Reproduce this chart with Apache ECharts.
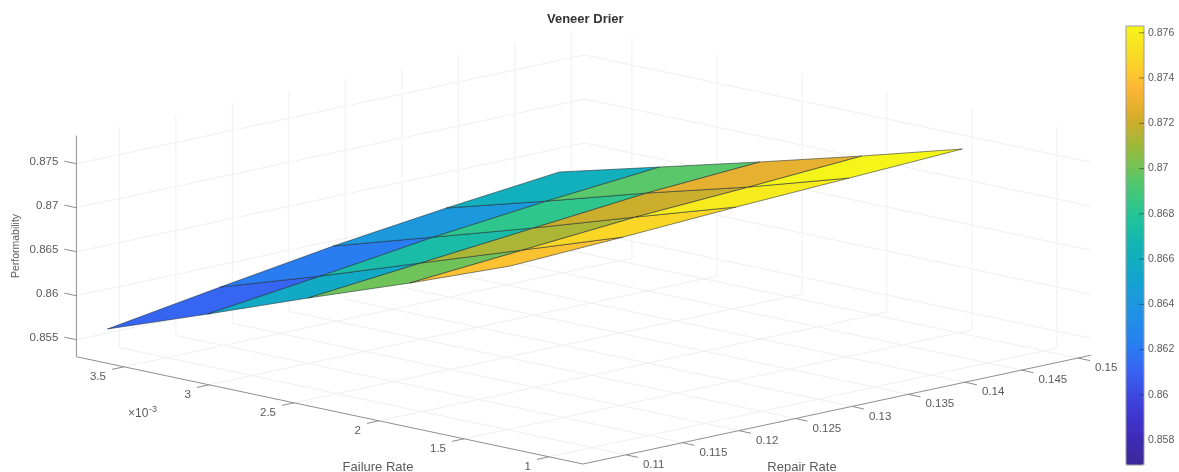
<!DOCTYPE html>
<html>
<head>
<meta charset="utf-8">
<style>html,body{margin:0;padding:0;background:#fff}#c{width:1179px;height:472px;filter:blur(0.4px)}</style>
<script src="https://cdn.jsdelivr.net/npm/echarts@6/dist/echarts.min.js"></script>
</head>
<body>
<div id="c"></div>
<script>
// ---------- data ----------
const failureTicks = [1, 1.5, 2, 2.5, 3, 3.5];            // x 10^-3
const repairTicks = [0.11, 0.115, 0.12, 0.125, 0.13, 0.135, 0.14, 0.145, 0.15];
const perfTicks = [0.855, 0.86, 0.865, 0.87, 0.875];
const colorbarTicks = [0.858, 0.86, 0.862, 0.864, 0.866, 0.868, 0.87, 0.872, 0.874, 0.876];

const failureRate = [3.85, 3.26, 2.67, 2.07, 1.48];       // x 10^-3
const repairRate = [0.11, 0.12, 0.13, 0.14, 0.15];
const perfAtF0 = [0.85489, 0.85691, 0.85882, 0.86039, 0.86173];
const perfAtF1 = [0.85900, 0.86057, 0.86225, 0.86359, 0.86471];
const perfAtF2 = [0.86324, 0.86447, 0.86570, 0.86692, 0.86770];
const perfAtF3 = [0.86740, 0.86840, 0.86940, 0.87006, 0.87083];
const perfAtF4 = [0.87174, 0.87229, 0.87295, 0.87349, 0.87404];
const performability = [perfAtF0, perfAtF1, perfAtF2, perfAtF3, perfAtF4];

const faceColorF0 = [0.8611, 0.8622, 0.8642, 0.8661];
const faceColorF1 = [0.8656, 0.8672, 0.8683, 0.8695];
const faceColorF2 = [0.8700, 0.8713, 0.8720, 0.8728];
const faceColorF3 = [0.8740, 0.8748, 0.8758, 0.8763];
const faceColors = [faceColorF0, faceColorF1, faceColorF2, faceColorF3];

const colormap = ['rgb(60,40,150)', 'rgb(64,44,190)', 'rgb(61,65,218)', 'rgb(55,100,242)', 'rgb(38,130,240)',
  'rgb(31,148,225)', 'rgb(18,165,205)', 'rgb(18,180,180)', 'rgb(36,197,150)', 'rgb(83,200,110)',
  'rgb(146,188,63)', 'rgb(210,172,42)', 'rgb(253,182,54)', 'rgb(250,217,38)', 'rgb(245,245,25)'];
const colorMin = 0.8569, colorMax = 0.8763;

// ---------- 3D axis box limits ----------
const fMin = 0.8, fMax = 3.78, rMin = 0.1062, rMax = 0.15115, zMin = 0.85307, zMax = 0.8782;

// orthographic view of the box, in the units of the hidden screen axes
function project(f, r, z) {
  return [
    583 - 170 * (f - fMin) + 11300 * (r - rMin),
    464 - 36 * (f - fMin) - 2420 * (r - rMin) - 8800 * (z - zMin)
  ];
}

const gridSegs = [];
failureTicks.forEach(f => {
  gridSegs.push([f, rMin, zMin, f, rMax, zMin]);
  gridSegs.push([f, rMax, zMin, f, rMax, zMax]);
});
repairTicks.forEach(r => {
  gridSegs.push([fMin, r, zMin, fMax, r, zMin]);
  gridSegs.push([fMax, r, zMin, fMax, r, zMax]);
});
perfTicks.forEach(z => {
  gridSegs.push([fMax, rMin, z, fMax, rMax, z]);
  gridSegs.push([fMin, rMax, z, fMax, rMax, z]);
});
const axisSegs = [
  [fMax, rMin, zMin, fMax, rMin, zMax],
  [fMin, rMin, zMin, fMax, rMin, zMin],
  [fMin, rMin, zMin, fMin, rMax, zMin]
];

function segItem(color, width) {
  return (params, api) => {
    const p = api.coord(project(api.value(0), api.value(1), api.value(2)));
    const q = api.coord(project(api.value(3), api.value(4), api.value(5)));
    return { type: 'line', shape: { x1: p[0], y1: p[1], x2: q[0], y2: q[1] },
      style: { stroke: color, lineWidth: width }, silent: true };
  };
}

const tickColor = '#8c8c8c', textColor = '#5a5a5a', font = '"Liberation Sans", Arial, sans-serif';

// tick mark + tick label for each axis of the box
function tickItem(anchor, tdx, tdy, ldx, ldy, align, fmt) {
  return (params, api) => {
    const v = api.value(0);
    const p = api.coord(anchor(v));
    return { type: 'group', silent: true, children: [
      { type: 'line', shape: { x1: p[0], y1: p[1], x2: p[0] + tdx, y2: p[1] + tdy },
        style: { stroke: tickColor, lineWidth: 1 } },
      { type: 'text', x: p[0] + ldx, y: p[1] + ldy,
        style: { text: fmt(v), fill: textColor, font: '11.5px ' + font, textAlign: align, textVerticalAlign: 'middle' } }
    ] };
  };
}

const plain = v => String(v);
const hideAxis = { show: false };

const option = {
  animation: false,
  backgroundColor: '#ffffff',
  title: {
    text: 'Veneer Drier', left: 542, top: 8,
    textStyle: { fontFamily: font, fontSize: 13, fontWeight: 'bold', color: '#333' }
  },
  grid: [
    { left: 0, top: 0, width: 1179, height: 472, containLabel: false },
    { left: 1126, top: 26, width: 18, height: 439, show: true, z: 10,
      backgroundColor: 'transparent', borderColor: '#9a9a9a', borderWidth: 1 }
  ],
  xAxis: [
    { type: 'value', gridIndex: 0, min: 0, max: 1179, ...hideAxis },
    { type: 'value', gridIndex: 1, min: 0, max: 1, ...hideAxis }
  ],
  yAxis: [
    { type: 'value', gridIndex: 0, min: 0, max: 472, inverse: true, ...hideAxis },
    { type: 'value', gridIndex: 1, min: colorMin, max: colorMax, position: 'right', z: 11,
      splitLine: { show: false }, axisLine: { show: false }, axisTick: { show: false },
      axisLabel: { show: true, customValues: colorbarTicks, margin: 4, color: textColor, fontFamily: font, fontSize: 10.5,
        formatter: v => String(+v.toFixed(3)) } }
  ],
  visualMap: {
    type: 'continuous', min: colorMin, max: colorMax, dimension: 2, seriesIndex: 2,
    left: 1126, top: 26, itemWidth: 18, itemHeight: 439, padding: 0, calculable: false, showLabel: false,
    text: ['', ''], inRange: { color: colormap }
  },
  series: [
    { type: 'custom', name: 'box grid', xAxisIndex: 0, yAxisIndex: 0, clip: false, silent: true, z: 1,
      data: gridSegs, renderItem: segItem('#eff0f3', 1) },
    { type: 'custom', name: 'box axes', xAxisIndex: 0, yAxisIndex: 0, clip: false, silent: true, z: 2,
      data: axisSegs, renderItem: segItem('#8f8f8f', 1) },
    { type: 'custom', name: 'Performability surface', xAxisIndex: 0, yAxisIndex: 0, clip: false, silent: true, z: 3,
      data: faceColors.flatMap((row, a) => row.map((c, b) => [a, b, c])),
      renderItem: (params, api) => {
        const a = api.value(0), b = api.value(1);
        const corner = (i, j) => api.coord(project(failureRate[i], repairRate[j], performability[i][j]));
        return { type: 'polygon', silent: true,
          shape: { points: [corner(a, b), corner(a + 1, b), corner(a + 1, b + 1), corner(a, b + 1)] },
          style: { fill: api.visual('color'), stroke: 'rgba(30,40,50,0.55)', lineWidth: 1, lineJoin: 'round' } };
      } },
    { type: 'custom', name: 'performability ticks', xAxisIndex: 0, yAxisIndex: 0, clip: false, silent: true, z: 4,
      data: perfTicks.map(v => [v]),
      renderItem: tickItem(v => project(fMax, rMin, v), -12, -2.6, -18, -2, 'right', plain) },
    { type: 'custom', name: 'failure ticks', xAxisIndex: 0, yAxisIndex: 0, clip: false, silent: true, z: 4,
      data: failureTicks.map(v => [v]),
      renderItem: tickItem(v => project(v, rMin, zMin), -12, 2.6, -18, 10, 'right', plain) },
    { type: 'custom', name: 'repair ticks', xAxisIndex: 0, yAxisIndex: 0, clip: false, silent: true, z: 4,
      data: repairTicks.map(v => [v]),
      renderItem: tickItem(v => project(fMin, v, zMin), 12, 2.6, 17, 10, 'left', plain) },
    { type: 'custom', name: 'colorbar ticks', xAxisIndex: 1, yAxisIndex: 1, clip: false, silent: true, z: 20,
      data: colorbarTicks.map(v => [1, v]),
      renderItem: (params, api) => {
        const p = api.coord([api.value(0), api.value(1)]);
        return { type: 'line', silent: true, shape: { x1: p[0] - 5, y1: p[1], x2: p[0], y2: p[1] },
          style: { stroke: 'rgba(50,50,50,0.55)', lineWidth: 1 } };
      } }
  ],
  graphic: [
    { type: 'text', x: 378, y: 467, silent: true,
      style: { text: 'Failure Rate', fill: textColor, font: '13px ' + font, textAlign: 'center', textVerticalAlign: 'middle' } },
    { type: 'text', x: 802, y: 467, silent: true,
      style: { text: 'Repair Rate', fill: textColor, font: '13px ' + font, textAlign: 'center', textVerticalAlign: 'middle' } },
    { type: 'text', x: 16, y: 246, rotation: Math.PI / 2, silent: true,
      style: { text: 'Performability', fill: textColor, font: '10.5px ' + font, textAlign: 'center', textVerticalAlign: 'middle' } },
    { type: 'text', x: 128, y: 414, silent: true,
      style: { text: '\u00d710', fill: textColor, font: '12px ' + font, textAlign: 'left', textVerticalAlign: 'middle' } },
    { type: 'text', x: 149, y: 410, silent: true,
      style: { text: '-3', fill: textColor, font: '9px ' + font, textAlign: 'left', textVerticalAlign: 'middle' } }
  ]
};
const chart = echarts.init(document.getElementById('c'), null, { renderer: 'canvas' });
chart.setOption(option);
</script>
</body>
</html>
